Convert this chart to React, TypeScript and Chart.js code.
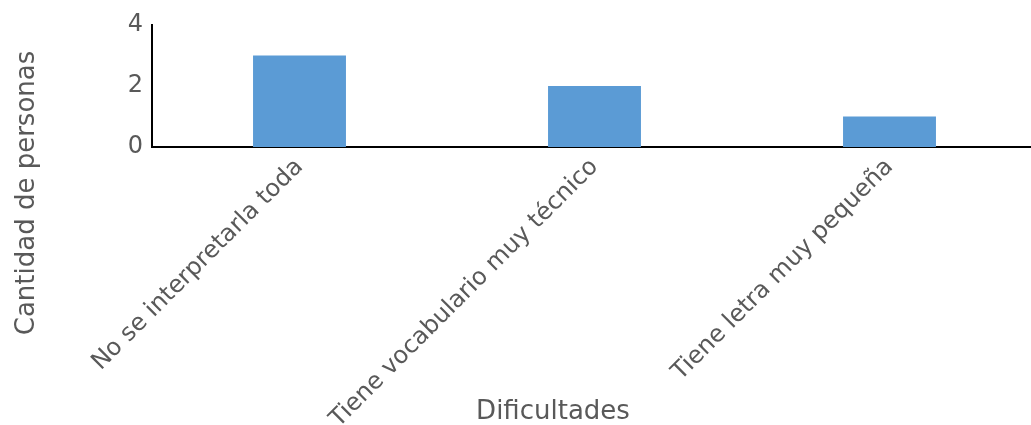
import React, { useEffect, useRef } from "react";
import { Chart, registerables } from "chart.js";

Chart.register(...registerables);

const categories = [
  "No se interpretarla toda",
  "Tiene vocabulario muy técnico",
  "Tiene letra muy pequeña",
];
const values = [3, 2, 1];
const yTicks = [0, 2, 4];
const xTitle = "Dificultades";
const yTitle = "Cantidad de personas";

const FONT = "'DejaVu Sans', sans-serif";
const GRAY = "#595959";

export default function App() {
  const ref = useRef<HTMLCanvasElement | null>(null);

  useEffect(() => {
    if (!ref.current) return;
    const titlesPlugin = {
      id: "titles",
      afterDraw(chart: any) {
        const ctx = chart.ctx;
        ctx.save();
        ctx.fillStyle = GRAY;
        ctx.font = `26px ${FONT}`;
        ctx.textAlign = "center";
        ctx.textBaseline = "alphabetic";
        ctx.fillText(xTitle, 553, 419);
        ctx.translate(34, 193);
        ctx.rotate(-Math.PI / 2);
        ctx.fillText(yTitle, 0, 0);
        ctx.restore();
      },
    };
    const chart = new Chart(ref.current, {
      type: "bar",
      data: {
        labels: categories,
        datasets: [
          {
            data: values,
            backgroundColor: "#5b9bd5",
            borderWidth: 0,
            barPercentage: 0.315,
            categoryPercentage: 1,
          },
        ],
      },
      options: {
        animation: false,
        responsive: true,
        maintainAspectRatio: false,
        layout: { padding: { top: 25, left: 0, right: 0, bottom: 0 } },
        plugins: { legend: { display: false }, tooltip: { enabled: false } },
        scales: {
          x: {
            grid: { display: false, drawTicks: false },
            border: { display: true, color: "#000", width: 2 },
            ticks: {
              color: GRAY,
              font: { family: FONT, size: 24 },
              minRotation: 45,
              maxRotation: 45,
              padding: 6,
            },
            afterFit(scale: any) {
              scale.height = 425 - 147;
            },
          },
          y: {
            min: 0,
            max: 4,
            grid: { display: false, drawTicks: false },
            border: { display: true, color: "#000", width: 2 },
            ticks: {
              color: GRAY,
              font: { family: FONT, size: 24 },
              padding: 9,
              callback: (v: any) => (yTicks.includes(Number(v)) ? String(v) : null),
              stepSize: 2,
            },
            afterFit(scale: any) {
              scale.width = 152;
            },
          },
        },
      },
      plugins: [titlesPlugin],
    } as any);
    return () => chart.destroy();
  }, []);

  return (
    <div style={{ position: "absolute", left: 0, top: 0, width: 1031, height: 425, overflow: "hidden" }}>
      <div style={{ position: "relative", width: 1037, height: 425 }}>
        <canvas ref={ref} />
      </div>
    </div>
  );
}
